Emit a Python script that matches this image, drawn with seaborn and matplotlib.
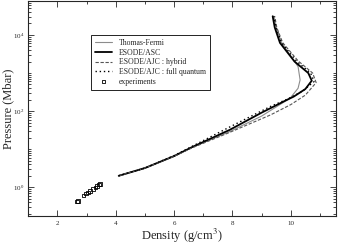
import numpy as np
import pandas as pd
import matplotlib
matplotlib.use("Agg")
import matplotlib.pyplot as plt
import matplotlib.ticker as mticker
import seaborn as sns

sns.set_style("ticks")
plt.rcParams["font.family"] = ["Liberation Serif", "DejaVu Serif"]
plt.rcParams["mathtext.fontset"] = "stix"

# Thomas-Fermi
tf_rho = [4.1, 5.0, 6.0, 6.6, 7.9, 9.0, 9.98, 10.25, 10.32, 10.25, 10.09, 9.68, 9.5, 9.42]
tf_p = [2.0, 3.2, 6.5, 11.0, 28.8, 74, 219, 398, 660, 1480, 2240, 6300, 15800, 31000]

# ESODE/ASC
asc_rho = [4.1, 5.0, 6.0, 6.6, 7.9, 9.0, 9.8, 10.1, 10.5, 10.72, 10.6, 10.13, 9.63, 9.45, 9.38]
asc_p = [2.0, 3.2, 6.6, 11.2, 32, 91, 186, 240, 380, 630, 1000, 2000, 6200, 15800, 31000]

# ESODE/AJC : hybrid
hyb_rho = [4.1, 5.0, 6.0, 6.6, 7.9, 9.3, 10.0, 10.5, 10.87, 10.75, 10.25, 9.72, 9.52, 9.45]
hyb_p = [2.0, 3.2, 6.5, 10.7, 27.5, 79, 148, 263, 560, 1000, 2090, 6300, 15800, 31000]

# ESODE/AJC : full quantum
fq_rho = [4.1, 5.0, 6.0, 6.6, 7.9, 9.3, 9.9, 10.4, 10.8, 10.68, 10.2, 9.68, 9.49, 9.42]
fq_p = [2.0, 3.2, 6.8, 11.7, 38, 132, 209, 331, 600, 1000, 2040, 6300, 15800, 31000]

# experiments
exp_rho = [2.67, 2.70, 2.90, 2.98, 3.05, 3.12, 3.22, 3.30, 3.36, 3.42, 3.46]
exp_p = [0.43, 0.44, 0.60, 0.68, 0.74, 0.79, 0.89, 0.98, 1.07, 1.17, 1.23]

fig = plt.figure(figsize=(3.38, 2.45), dpi=100)
ax = fig.add_axes([0.0837, 0.118, 0.9103, 0.878])

sns.lineplot(x=tf_rho, y=tf_p, sort=False, estimator=None, ax=ax,
             color="#8c8c8c", lw=0.8, label="Thomas-Fermi")
sns.lineplot(x=asc_rho, y=asc_p, sort=False, estimator=None, ax=ax,
             color="black", lw=1.3, label="ESODE/ASC")
sns.lineplot(x=hyb_rho, y=hyb_p, sort=False, estimator=None, ax=ax,
             color="#555555", lw=0.8, linestyle=(0, (3, 1.5)),
             label="ESODE/AJC : hybrid")
sns.lineplot(x=fq_rho, y=fq_p, sort=False, estimator=None, ax=ax,
             color="black", lw=1.0, linestyle=(0, (1, 2)),
             label="ESODE/AJC : full quantum")
sns.scatterplot(x=exp_rho, y=exp_p, ax=ax, marker="s", s=6,
                facecolor="none", edgecolor="black", linewidth=0.6,
                label="experiments")

ax.set_yscale("log")
ax.set_xlim(1.0, 11.55)
ax.set_ylim(0.175, 7.8e4)

ax.xaxis.set_major_locator(mticker.MultipleLocator(2))
ax.xaxis.set_minor_locator(mticker.MultipleLocator(1))
ax.yaxis.set_major_locator(mticker.FixedLocator([1, 1e2, 1e4]))
ax.yaxis.set_minor_locator(mticker.LogLocator(base=10, subs=np.arange(1, 10), numticks=20))
ax.yaxis.set_major_formatter(mticker.LogFormatterSciNotation())
ax.yaxis.set_minor_formatter(mticker.NullFormatter())

ax.tick_params(which="both", direction="in", top=True, right=True, width=0.6, labelsize=5)
ax.tick_params(which="major", length=4, pad=3.5)
ax.tick_params(axis="y", which="major", pad=3)
ax.tick_params(which="minor", length=2)
for s in ax.spines.values():
    s.set_linewidth(0.8)

ax.set_xlabel("Density (g/cm$^3$)", fontsize=9, labelpad=1)
ax.set_ylabel("Pressure (Mbar)", fontsize=9)
ax.yaxis.set_label_coords(-0.047, 0.5)

leg = ax.legend(loc="upper left", bbox_to_anchor=(0.204, 0.842), fontsize=5.6,
                frameon=True, fancybox=False, edgecolor="black", framealpha=1,
                handlelength=2.2, handletextpad=0.9, borderpad=0.5,
                labelspacing=0.22, borderaxespad=0)
leg.get_frame().set_linewidth(0.6)

fig.savefig("out.png", dpi=100)
